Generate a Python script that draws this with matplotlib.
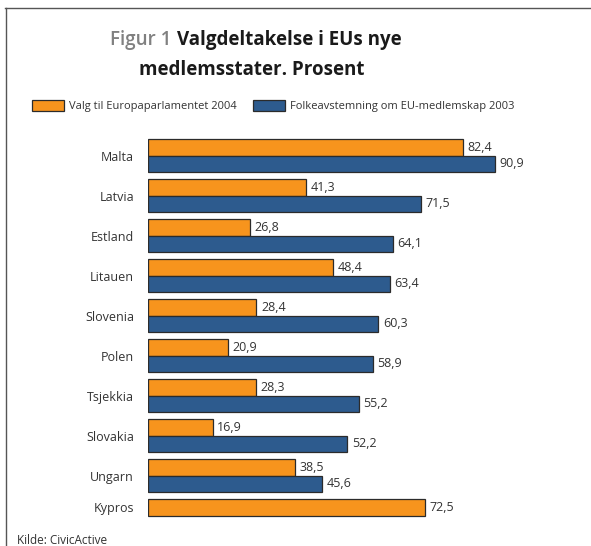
import numpy as np
import matplotlib.pyplot as plt
from matplotlib.lines import Line2D

plt.rcParams['font.family'] = ['Open Sans', 'DejaVu Sans']

# Data
countries = ['Malta', 'Latvia', 'Estland', 'Litauen', 'Slovenia', 'Polen',
             'Tsjekkia', 'Slovakia', 'Ungarn', 'Kypros']
ep_2004 = [82.4, 41.3, 26.8, 48.4, 28.4, 20.9, 28.3, 16.9, 38.5, 72.5]
ref_2003 = [90.9, 71.5, 64.1, 63.4, 60.3, 58.9, 55.2, 52.2, 45.6, np.nan]
series_names = ['Valg til Europaparlamentet 2004',
                'Folkeavstemning om EU-medlemskap 2003']

orange = '#F7941D'
blue = '#2D5B8E'
edge = '#2b2b2b'
text_col = '#333333'

fig = plt.figure(figsize=(5.91, 5.46), dpi=100, facecolor='white')
ax = fig.add_axes([0.2504, 0.0189, 0.7107, 0.7326])

y = np.arange(len(countries))
h = 0.41
b1 = ax.barh(y - h / 2, ep_2004, height=h, color=orange, edgecolor=edge,
             linewidth=0.9, label=series_names[0])
ref_vals = np.array(ref_2003, dtype=float)
b2 = ax.barh(y + h / 2, np.nan_to_num(ref_vals), height=h, color=blue,
             edgecolor=edge, linewidth=0.9, label=series_names[1])
for bar, v in zip(b2, ref_vals):
    if np.isnan(v):
        bar.set_visible(False)

def fmt(v):
    return f'{v:.1f}'.replace('.', ',')

for bars, vals in ((b1, ep_2004), (b2, ref_vals)):
    for bar, v in zip(bars, vals):
        if np.isnan(v):
            continue
        ax.text(v + 1.2, bar.get_y() + bar.get_height() / 2, fmt(v),
                va='center', ha='left', fontsize=9, color=text_col)

# tick at group centre, or at the single bar if the second value is missing
ticks = [yi - h / 2 if np.isnan(r) else yi for yi, r in zip(y, ref_vals)]
ax.set_yticks(ticks)
ax.set_yticklabels(countries, fontsize=9, color=text_col)
ax.tick_params(axis='y', length=0, pad=10)
ax.set_xticks([])
ax.set_xlim(0, 110)
ax.set_ylim(len(countries) - 0.5, -0.5)
for s in ax.spines.values():
    s.set_visible(False)

# Title
fig.text(110 / 591, 0.927, 'Figur 1', fontsize=13.5, color='#808080',
         ha='left', va='center', fontweight='semibold')
fig.text(177 / 591, 0.927, 'Valgdeltakelse i EUs nye', fontsize=13.5,
         color='#1a1a1a', ha='left', va='center', fontweight='bold')
fig.text(252 / 591, 0.872, 'medlemsstater. Prosent', fontsize=13.5,
         color='#1a1a1a', ha='center', va='center', fontweight='bold')

# Legend
fig.legend(handles=[b1, b2], labels=series_names, loc='center',
           bbox_to_anchor=(0.462, 0.806), ncol=2, frameon=False, fontsize=8,
           handlelength=2.9, handleheight=1.2, handletextpad=0.4,
           columnspacing=1.5, labelcolor=text_col)

# Source
fig.text(0.029, 0.010, 'Kilde: CivicActive', fontsize=8.5, color=text_col,
         ha='left', va='center')

# Frame lines
fig.add_artist(Line2D([5 / 591, 1], [1 - 8 / 546, 1 - 8 / 546], color='#555555', lw=1))
fig.add_artist(Line2D([6 / 591, 6 / 591], [0, 1 - 8 / 546], color='#555555', lw=1))

plt.savefig('out.png', dpi=100)
